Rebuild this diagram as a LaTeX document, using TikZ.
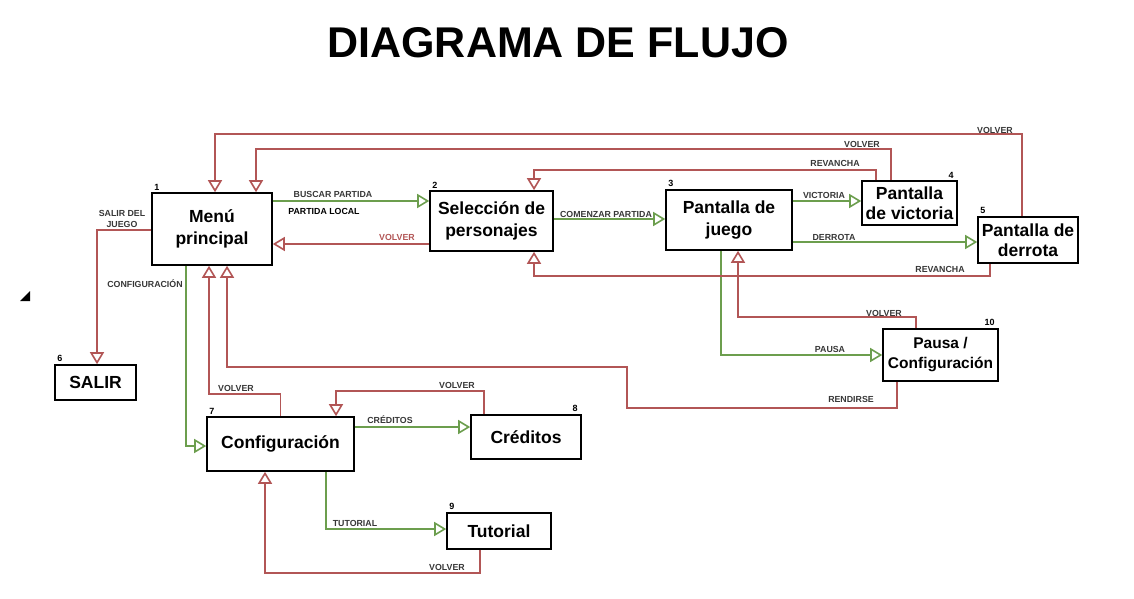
\documentclass[tikz,border=0pt]{standalone}
\usepackage{fontspec}
\setmainfont{Liberation Sans}
\usetikzlibrary{arrows.meta,calc}
\definecolor{linered}{RGB}{178,86,86}
\definecolor{linegreen}{RGB}{108,158,78}
\definecolor{lbltext}{RGB}{55,55,55}

\begin{document}
\begin{tikzpicture}[x=1pt,y=-1pt,
  box/.style={draw, line width=1.6pt, align=center, inner sep=0pt,
    font=\bfseries\fontsize{17.5}{21.5}\selectfont},
  go/.style={draw, linegreen, line width=1.6pt, -{Triangle[open,length=12pt,width=14pt]}},
  back/.style={draw, linered, line width=1.6pt, -{Triangle[open,length=12pt,width=14pt]}},
  lbl/.style={font=\bfseries\fontsize{8.8}{11}\selectfont, text=lbltext, inner sep=0pt, align=center},
  num/.style={font=\bfseries\fontsize{9}{9}\selectfont, inner sep=0pt},
  nw/.style={label={[num,anchor=south west,xshift=3pt,yshift=2pt]north west:#1}},
  ne/.style={label={[num,anchor=south east,xshift=-4pt,yshift=2pt]north east:#1}}]
\useasboundingbox (0,0) rectangle (1134,599);

\node[font=\bfseries\fontsize{43}{43}\selectfont] (title) at (558,43) {DIAGRAMA DE FLUJO};

% pantallas
\node[box, nw=1, minimum width=120pt, minimum height=72pt] (menu) at (212,229) {Menú\\principal};
\node[box, nw=2, minimum width=123pt, minimum height=60pt] (sel) at (491.5,221) {Selección de\\personajes};
\node[box, nw=3, minimum width=126pt, minimum height=60pt] (jue) at (729,220) {Pantalla de\\juego};
\node[box, ne=4, minimum width=95pt, minimum height=44pt, font=\bfseries\fontsize{17.5}{20.5}\selectfont] (vic) at (909.5,203) {Pantalla\\de victoria};
\node[box, nw=5, minimum width=100pt, minimum height=46pt, font=\bfseries\fontsize{17.5}{20.5}\selectfont] (der) at (1028,240) {Pantalla de\\derrota};
\node[box, nw=6, minimum width=81pt, minimum height=35pt] (salir) at (95.5,382.5) {SALIR};
\node[box, nw=7, minimum width=147pt, minimum height=54pt] (cfg) at (280.5,444) {Configuración};
\node[box, ne=8, minimum width=110pt, minimum height=44pt] (cre) at (526,437) {Créditos};
\node[box, nw=9, minimum width=104pt, minimum height=36pt] (tut) at (499,531) {Tutorial};
\node[box, ne=10, minimum width=115pt, minimum height=52pt, font=\bfseries\fontsize{15.5}{20}\selectfont] (pau) at (940.5,355) {Pausa /\\Configuración};

% avanzar
\path[go] ($(menu.east)+(0,-28)$) -- ($(sel.west)+(0,-20)$);
\path[go] ($(sel.east)+(0,-2)$) -- ($(jue.west)+(0,-1)$);
\path[go] ($(jue.east)+(0,-19)$) -- ($(vic.west)+(0,-2)$);
\path[go] ($(jue.east)+(0,22)$) -- ($(der.west)+(0,2)$);
\path[go] ($(menu.south)+(-26,0)$) |- ($(cfg.west)+(0,2)$);
\path[go] ($(jue.south)+(-8,0)$) |- (pau.west);
\path[go] ($(cfg.east)+(0,-17)$) -- ($(cre.west)+(0,-10)$);
\path[go] ($(cfg.south)+(45.5,0)$) |- ($(tut.west)+(0,-2)$);

% volver
\path[back] ($(sel.west)+(0,23)$) -- ($(menu.east)+(0,15)$);
\path[back] ($(vic.north)+(-33.5,0)$) -- ++(0,-10) -| ($(sel.north)+(42.5,0)$);
\path[back] ($(vic.north)+(-18.5,0)$) -- ++(0,-31) -| ($(menu.north)+(44,0)$);
\path[back] ($(der.north)+(-6,0)$) -- ++(0,-82) -| ($(menu.north)+(3,0)$);
\path[back] ($(der.south)+(-38,0)$) -- ++(0,12) -| ($(sel.south)+(42.5,0)$);
\path[back] ($(menu.west)+(0,1)$) -| ($(salir.north)+(1.5,0)$);
\path[back] (cfg.north) -- ++(0,-22) -| ($(menu.south)+(-3,0)$);
\path[back] ($(pau.south)+(-43.5,0)$) -- ++(0,26) -- ++(-270,0) -- ++(0,-41) -| ($(menu.south)+(15,0)$);
\path[back] ($(pau.north)+(-24.5,0)$) -- ++(0,-11) -| ($(jue.south)+(9,0)$);
\path[back] ($(cre.north)+(-42,0)$) -- ++(0,-23) -| ($(cfg.north)+(55.5,0)$);
\path[back] ($(tut.south)+(-19,0)$) -- ++(0,23) -| ($(cfg.south)+(-15.5,0)$);

% etiquetas
\node[lbl] (lBuscar) at (333,194) {BUSCAR PARTIDA};
\node[lbl, text=black] (lLocal) at (324,211) {PARTIDA LOCAL};
\node[lbl, text=linered] (lVolSel) at (397,237) {VOLVER};
\node[lbl] (lComenzar) at (606,214) {COMENZAR PARTIDA};
\node[lbl] (lVictoria) at (824,195) {VICTORIA};
\node[lbl] (lDerrota) at (834,237) {DERROTA};
\node[lbl] (lRevVic) at (835,163) {REVANCHA};
\node[lbl] (lVolVic) at (862,144) {VOLVER};
\node[lbl] (lVolDer) at (995,130) {VOLVER};
\node[lbl] (lRevDer) at (940,269) {REVANCHA};
\node[lbl] (lSalir) at (122,219) {SALIR DEL\\JUEGO};
\node[lbl] (lConfig) at (145,284) {CONFIGURACIÓN};
\node[lbl] (lVolCfg) at (236,388) {VOLVER};
\node[lbl] (lRendirse) at (851,399) {RENDIRSE};
\node[lbl] (lPausa) at (830,349) {PAUSA};
\node[lbl] (lVolPau) at (884,313) {VOLVER};
\node[lbl] (lCreditos) at (390,420) {CRÉDITOS};
\node[lbl] (lVolCre) at (457,385) {VOLVER};
\node[lbl] (lTutorial) at (355,523) {TUTORIAL};
\node[lbl] (lVolTut) at (447,567) {VOLVER};

\fill (20,301) -- (30,301) -- (30,291) -- cycle;
\end{tikzpicture}
\end{document}
